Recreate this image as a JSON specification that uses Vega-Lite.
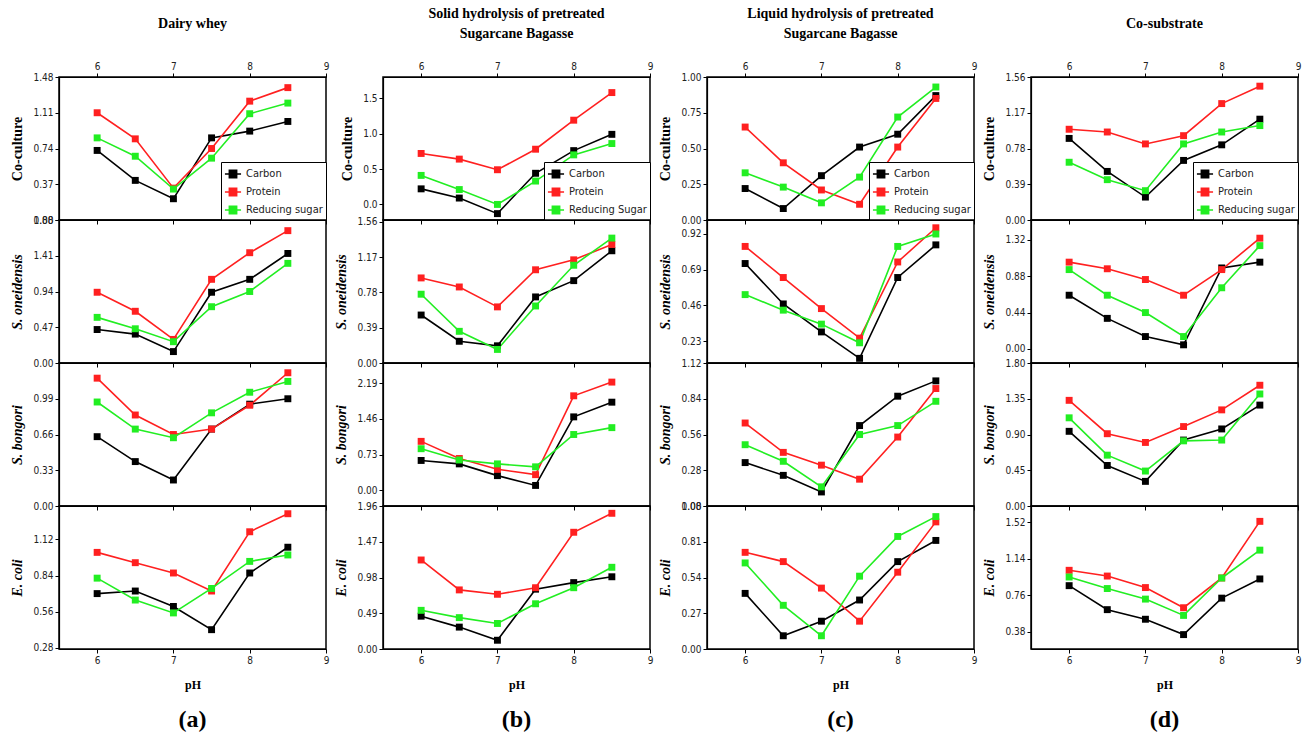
{
"$schema": "https://vega.github.io/schema/vega-lite/v6.json",
"background": "white",
"padding": {"left": 10, "top": 6, "right": 3, "bottom": 4},
"config": {
 "view": {"stroke": "black", "strokeWidth": 1.5},
 "axis": {"labelFont": "'Liberation Sans Narrow', 'DejaVu Sans Condensed', 'Liberation Sans', sans-serif", "labelFontSize": 10, "labelColor": "#222", "domainColor": "black", "domainWidth": 1.2, "tickColor": "black", "tickSize": 4, "grid": false, "titleFont": "Liberation Serif", "titleFontWeight": "bold", "titleFontSize": 14, "titleColor": "black", "labelOverlap": false, "labelFlush": false, "labelBound": false, "titlePadding": 8},
 "title": {"font": "Liberation Serif", "fontWeight": "bold", "fontSize": 14, "color": "black", "lineHeight": 20},
 "legend": {"orient": "bottom-right", "offset": 0, "strokeColor": "black", "fillColor": "white", "padding": 3, "rowPadding": 2, "labelFont": "'Liberation Sans Narrow', 'DejaVu Sans Condensed', 'Liberation Sans', sans-serif", "labelFontSize": 11, "labelColor": "#222", "symbolType": "M-1,0H1M-0.45,-0.45H0.45V0.45H-0.45Z", "symbolSize": 260, "symbolStrokeWidth": 1.6, "title": null}
},
"data": {"values": [
{"col":"a","row":1,"series":"Carbon","pH":6,"value":0.72},{"col":"a","row":1,"series":"Carbon","pH":6.5,"value":0.41},{"col":"a","row":1,"series":"Carbon","pH":7,"value":0.22},{"col":"a","row":1,"series":"Carbon","pH":7.5,"value":0.85},{"col":"a","row":1,"series":"Carbon","pH":8,"value":0.92},{"col":"a","row":1,"series":"Carbon","pH":8.5,"value":1.02},
{"col":"a","row":1,"series":"Protein","pH":6,"value":1.11},{"col":"a","row":1,"series":"Protein","pH":6.5,"value":0.84},{"col":"a","row":1,"series":"Protein","pH":7,"value":0.33},{"col":"a","row":1,"series":"Protein","pH":7.5,"value":0.74},{"col":"a","row":1,"series":"Protein","pH":8,"value":1.23},{"col":"a","row":1,"series":"Protein","pH":8.5,"value":1.37},
{"col":"a","row":1,"series":"Reducing sugar","pH":6,"value":0.85},{"col":"a","row":1,"series":"Reducing sugar","pH":6.5,"value":0.66},{"col":"a","row":1,"series":"Reducing sugar","pH":7,"value":0.32},{"col":"a","row":1,"series":"Reducing sugar","pH":7.5,"value":0.64},{"col":"a","row":1,"series":"Reducing sugar","pH":8,"value":1.10},{"col":"a","row":1,"series":"Reducing sugar","pH":8.5,"value":1.21},
{"col":"a","row":2,"series":"Carbon","pH":6,"value":0.44},{"col":"a","row":2,"series":"Carbon","pH":6.5,"value":0.38},{"col":"a","row":2,"series":"Carbon","pH":7,"value":0.15},{"col":"a","row":2,"series":"Carbon","pH":7.5,"value":0.93},{"col":"a","row":2,"series":"Carbon","pH":8,"value":1.10},{"col":"a","row":2,"series":"Carbon","pH":8.5,"value":1.44},
{"col":"a","row":2,"series":"Protein","pH":6,"value":0.93},{"col":"a","row":2,"series":"Protein","pH":6.5,"value":0.68},{"col":"a","row":2,"series":"Protein","pH":7,"value":0.31},{"col":"a","row":2,"series":"Protein","pH":7.5,"value":1.10},{"col":"a","row":2,"series":"Protein","pH":8,"value":1.45},{"col":"a","row":2,"series":"Protein","pH":8.5,"value":1.74},
{"col":"a","row":2,"series":"Reducing sugar","pH":6,"value":0.60},{"col":"a","row":2,"series":"Reducing sugar","pH":6.5,"value":0.45},{"col":"a","row":2,"series":"Reducing sugar","pH":7,"value":0.28},{"col":"a","row":2,"series":"Reducing sugar","pH":7.5,"value":0.74},{"col":"a","row":2,"series":"Reducing sugar","pH":8,"value":0.94},{"col":"a","row":2,"series":"Reducing sugar","pH":8.5,"value":1.31},
{"col":"a","row":3,"series":"Carbon","pH":6,"value":0.64},{"col":"a","row":3,"series":"Carbon","pH":6.5,"value":0.41},{"col":"a","row":3,"series":"Carbon","pH":7,"value":0.24},{"col":"a","row":3,"series":"Carbon","pH":7.5,"value":0.71},{"col":"a","row":3,"series":"Carbon","pH":8,"value":0.94},{"col":"a","row":3,"series":"Carbon","pH":8.5,"value":0.99},
{"col":"a","row":3,"series":"Protein","pH":6,"value":1.18},{"col":"a","row":3,"series":"Protein","pH":6.5,"value":0.84},{"col":"a","row":3,"series":"Protein","pH":7,"value":0.66},{"col":"a","row":3,"series":"Protein","pH":7.5,"value":0.71},{"col":"a","row":3,"series":"Protein","pH":8,"value":0.93},{"col":"a","row":3,"series":"Protein","pH":8.5,"value":1.23},
{"col":"a","row":3,"series":"Reducing sugar","pH":6,"value":0.96},{"col":"a","row":3,"series":"Reducing sugar","pH":6.5,"value":0.71},{"col":"a","row":3,"series":"Reducing sugar","pH":7,"value":0.63},{"col":"a","row":3,"series":"Reducing sugar","pH":7.5,"value":0.86},{"col":"a","row":3,"series":"Reducing sugar","pH":8,"value":1.05},{"col":"a","row":3,"series":"Reducing sugar","pH":8.5,"value":1.15},
{"col":"a","row":4,"series":"Carbon","pH":6,"value":0.70},{"col":"a","row":4,"series":"Carbon","pH":6.5,"value":0.72},{"col":"a","row":4,"series":"Carbon","pH":7,"value":0.60},{"col":"a","row":4,"series":"Carbon","pH":7.5,"value":0.42},{"col":"a","row":4,"series":"Carbon","pH":8,"value":0.86},{"col":"a","row":4,"series":"Carbon","pH":8.5,"value":1.06},
{"col":"a","row":4,"series":"Protein","pH":6,"value":1.02},{"col":"a","row":4,"series":"Protein","pH":6.5,"value":0.94},{"col":"a","row":4,"series":"Protein","pH":7,"value":0.86},{"col":"a","row":4,"series":"Protein","pH":7.5,"value":0.72},{"col":"a","row":4,"series":"Protein","pH":8,"value":1.18},{"col":"a","row":4,"series":"Protein","pH":8.5,"value":1.32},
{"col":"a","row":4,"series":"Reducing sugar","pH":6,"value":0.82},{"col":"a","row":4,"series":"Reducing sugar","pH":6.5,"value":0.65},{"col":"a","row":4,"series":"Reducing sugar","pH":7,"value":0.55},{"col":"a","row":4,"series":"Reducing sugar","pH":7.5,"value":0.74},{"col":"a","row":4,"series":"Reducing sugar","pH":8,"value":0.95},{"col":"a","row":4,"series":"Reducing sugar","pH":8.5,"value":1.00},
{"col":"b","row":1,"series":"Carbon","pH":6,"value":0.22},{"col":"b","row":1,"series":"Carbon","pH":6.5,"value":0.09},{"col":"b","row":1,"series":"Carbon","pH":7,"value":-0.13},{"col":"b","row":1,"series":"Carbon","pH":7.5,"value":0.44},{"col":"b","row":1,"series":"Carbon","pH":8,"value":0.76},{"col":"b","row":1,"series":"Carbon","pH":8.5,"value":0.99},
{"col":"b","row":1,"series":"Protein","pH":6,"value":0.72},{"col":"b","row":1,"series":"Protein","pH":6.5,"value":0.64},{"col":"b","row":1,"series":"Protein","pH":7,"value":0.49},{"col":"b","row":1,"series":"Protein","pH":7.5,"value":0.78},{"col":"b","row":1,"series":"Protein","pH":8,"value":1.19},{"col":"b","row":1,"series":"Protein","pH":8.5,"value":1.58},
{"col":"b","row":1,"series":"Reducing sugar","pH":6,"value":0.41},{"col":"b","row":1,"series":"Reducing sugar","pH":6.5,"value":0.21},{"col":"b","row":1,"series":"Reducing sugar","pH":7,"value":0.0},{"col":"b","row":1,"series":"Reducing sugar","pH":7.5,"value":0.33},{"col":"b","row":1,"series":"Reducing sugar","pH":8,"value":0.70},{"col":"b","row":1,"series":"Reducing sugar","pH":8.5,"value":0.86},
{"col":"b","row":2,"series":"Carbon","pH":6,"value":0.53},{"col":"b","row":2,"series":"Carbon","pH":6.5,"value":0.24},{"col":"b","row":2,"series":"Carbon","pH":7,"value":0.19},{"col":"b","row":2,"series":"Carbon","pH":7.5,"value":0.73},{"col":"b","row":2,"series":"Carbon","pH":8,"value":0.91},{"col":"b","row":2,"series":"Carbon","pH":8.5,"value":1.24},
{"col":"b","row":2,"series":"Protein","pH":6,"value":0.94},{"col":"b","row":2,"series":"Protein","pH":6.5,"value":0.84},{"col":"b","row":2,"series":"Protein","pH":7,"value":0.62},{"col":"b","row":2,"series":"Protein","pH":7.5,"value":1.03},{"col":"b","row":2,"series":"Protein","pH":8,"value":1.14},{"col":"b","row":2,"series":"Protein","pH":8.5,"value":1.31},
{"col":"b","row":2,"series":"Reducing sugar","pH":6,"value":0.76},{"col":"b","row":2,"series":"Reducing sugar","pH":6.5,"value":0.35},{"col":"b","row":2,"series":"Reducing sugar","pH":7,"value":0.15},{"col":"b","row":2,"series":"Reducing sugar","pH":7.5,"value":0.63},{"col":"b","row":2,"series":"Reducing sugar","pH":8,"value":1.08},{"col":"b","row":2,"series":"Reducing sugar","pH":8.5,"value":1.38},
{"col":"b","row":3,"series":"Carbon","pH":6,"value":0.61},{"col":"b","row":3,"series":"Carbon","pH":6.5,"value":0.54},{"col":"b","row":3,"series":"Carbon","pH":7,"value":0.30},{"col":"b","row":3,"series":"Carbon","pH":7.5,"value":0.10},{"col":"b","row":3,"series":"Carbon","pH":8,"value":1.50},{"col":"b","row":3,"series":"Carbon","pH":8.5,"value":1.80},
{"col":"b","row":3,"series":"Protein","pH":6,"value":1.00},{"col":"b","row":3,"series":"Protein","pH":6.5,"value":0.65},{"col":"b","row":3,"series":"Protein","pH":7,"value":0.43},{"col":"b","row":3,"series":"Protein","pH":7.5,"value":0.32},{"col":"b","row":3,"series":"Protein","pH":8,"value":1.93},{"col":"b","row":3,"series":"Protein","pH":8.5,"value":2.21},
{"col":"b","row":3,"series":"Reducing sugar","pH":6,"value":0.85},{"col":"b","row":3,"series":"Reducing sugar","pH":6.5,"value":0.62},{"col":"b","row":3,"series":"Reducing sugar","pH":7,"value":0.54},{"col":"b","row":3,"series":"Reducing sugar","pH":7.5,"value":0.48},{"col":"b","row":3,"series":"Reducing sugar","pH":8,"value":1.14},{"col":"b","row":3,"series":"Reducing sugar","pH":8.5,"value":1.28},
{"col":"b","row":4,"series":"Carbon","pH":6,"value":0.45},{"col":"b","row":4,"series":"Carbon","pH":6.5,"value":0.30},{"col":"b","row":4,"series":"Carbon","pH":7,"value":0.12},{"col":"b","row":4,"series":"Carbon","pH":7.5,"value":0.82},{"col":"b","row":4,"series":"Carbon","pH":8,"value":0.91},{"col":"b","row":4,"series":"Carbon","pH":8.5,"value":0.99},
{"col":"b","row":4,"series":"Protein","pH":6,"value":1.22},{"col":"b","row":4,"series":"Protein","pH":6.5,"value":0.81},{"col":"b","row":4,"series":"Protein","pH":7,"value":0.75},{"col":"b","row":4,"series":"Protein","pH":7.5,"value":0.84},{"col":"b","row":4,"series":"Protein","pH":8,"value":1.60},{"col":"b","row":4,"series":"Protein","pH":8.5,"value":1.86},
{"col":"b","row":4,"series":"Reducing sugar","pH":6,"value":0.53},{"col":"b","row":4,"series":"Reducing sugar","pH":6.5,"value":0.43},{"col":"b","row":4,"series":"Reducing sugar","pH":7,"value":0.35},{"col":"b","row":4,"series":"Reducing sugar","pH":7.5,"value":0.62},{"col":"b","row":4,"series":"Reducing sugar","pH":8,"value":0.84},{"col":"b","row":4,"series":"Reducing sugar","pH":8.5,"value":1.12},
{"col":"c","row":1,"series":"Carbon","pH":6,"value":0.22},{"col":"c","row":1,"series":"Carbon","pH":6.5,"value":0.08},{"col":"c","row":1,"series":"Carbon","pH":7,"value":0.31},{"col":"c","row":1,"series":"Carbon","pH":7.5,"value":0.51},{"col":"c","row":1,"series":"Carbon","pH":8,"value":0.60},{"col":"c","row":1,"series":"Carbon","pH":8.5,"value":0.87},
{"col":"c","row":1,"series":"Protein","pH":6,"value":0.65},{"col":"c","row":1,"series":"Protein","pH":6.5,"value":0.40},{"col":"c","row":1,"series":"Protein","pH":7,"value":0.21},{"col":"c","row":1,"series":"Protein","pH":7.5,"value":0.11},{"col":"c","row":1,"series":"Protein","pH":8,"value":0.51},{"col":"c","row":1,"series":"Protein","pH":8.5,"value":0.85},
{"col":"c","row":1,"series":"Reducing sugar","pH":6,"value":0.33},{"col":"c","row":1,"series":"Reducing sugar","pH":6.5,"value":0.23},{"col":"c","row":1,"series":"Reducing sugar","pH":7,"value":0.12},{"col":"c","row":1,"series":"Reducing sugar","pH":7.5,"value":0.30},{"col":"c","row":1,"series":"Reducing sugar","pH":8,"value":0.72},{"col":"c","row":1,"series":"Reducing sugar","pH":8.5,"value":0.93},
{"col":"c","row":2,"series":"Carbon","pH":6,"value":0.73},{"col":"c","row":2,"series":"Carbon","pH":6.5,"value":0.47},{"col":"c","row":2,"series":"Carbon","pH":7,"value":0.29},{"col":"c","row":2,"series":"Carbon","pH":7.5,"value":0.12},{"col":"c","row":2,"series":"Carbon","pH":8,"value":0.64},{"col":"c","row":2,"series":"Carbon","pH":8.5,"value":0.85},
{"col":"c","row":2,"series":"Protein","pH":6,"value":0.84},{"col":"c","row":2,"series":"Protein","pH":6.5,"value":0.64},{"col":"c","row":2,"series":"Protein","pH":7,"value":0.44},{"col":"c","row":2,"series":"Protein","pH":7.5,"value":0.25},{"col":"c","row":2,"series":"Protein","pH":8,"value":0.74},{"col":"c","row":2,"series":"Protein","pH":8.5,"value":0.96},
{"col":"c","row":2,"series":"Reducing sugar","pH":6,"value":0.53},{"col":"c","row":2,"series":"Reducing sugar","pH":6.5,"value":0.43},{"col":"c","row":2,"series":"Reducing sugar","pH":7,"value":0.34},{"col":"c","row":2,"series":"Reducing sugar","pH":7.5,"value":0.22},{"col":"c","row":2,"series":"Reducing sugar","pH":8,"value":0.84},{"col":"c","row":2,"series":"Reducing sugar","pH":8.5,"value":0.92},
{"col":"c","row":3,"series":"Carbon","pH":6,"value":0.34},{"col":"c","row":3,"series":"Carbon","pH":6.5,"value":0.24},{"col":"c","row":3,"series":"Carbon","pH":7,"value":0.11},{"col":"c","row":3,"series":"Carbon","pH":7.5,"value":0.63},{"col":"c","row":3,"series":"Carbon","pH":8,"value":0.86},{"col":"c","row":3,"series":"Carbon","pH":8.5,"value":0.98},
{"col":"c","row":3,"series":"Protein","pH":6,"value":0.65},{"col":"c","row":3,"series":"Protein","pH":6.5,"value":0.42},{"col":"c","row":3,"series":"Protein","pH":7,"value":0.32},{"col":"c","row":3,"series":"Protein","pH":7.5,"value":0.21},{"col":"c","row":3,"series":"Protein","pH":8,"value":0.54},{"col":"c","row":3,"series":"Protein","pH":8.5,"value":0.92},
{"col":"c","row":3,"series":"Reducing sugar","pH":6,"value":0.48},{"col":"c","row":3,"series":"Reducing sugar","pH":6.5,"value":0.35},{"col":"c","row":3,"series":"Reducing sugar","pH":7,"value":0.15},{"col":"c","row":3,"series":"Reducing sugar","pH":7.5,"value":0.56},{"col":"c","row":3,"series":"Reducing sugar","pH":8,"value":0.63},{"col":"c","row":3,"series":"Reducing sugar","pH":8.5,"value":0.82},
{"col":"c","row":4,"series":"Carbon","pH":6,"value":0.42},{"col":"c","row":4,"series":"Carbon","pH":6.5,"value":0.10},{"col":"c","row":4,"series":"Carbon","pH":7,"value":0.21},{"col":"c","row":4,"series":"Carbon","pH":7.5,"value":0.37},{"col":"c","row":4,"series":"Carbon","pH":8,"value":0.66},{"col":"c","row":4,"series":"Carbon","pH":8.5,"value":0.82},
{"col":"c","row":4,"series":"Protein","pH":6,"value":0.73},{"col":"c","row":4,"series":"Protein","pH":6.5,"value":0.66},{"col":"c","row":4,"series":"Protein","pH":7,"value":0.46},{"col":"c","row":4,"series":"Protein","pH":7.5,"value":0.21},{"col":"c","row":4,"series":"Protein","pH":8,"value":0.58},{"col":"c","row":4,"series":"Protein","pH":8.5,"value":0.96},
{"col":"c","row":4,"series":"Reducing sugar","pH":6,"value":0.65},{"col":"c","row":4,"series":"Reducing sugar","pH":6.5,"value":0.33},{"col":"c","row":4,"series":"Reducing sugar","pH":7,"value":0.10},{"col":"c","row":4,"series":"Reducing sugar","pH":7.5,"value":0.55},{"col":"c","row":4,"series":"Reducing sugar","pH":8,"value":0.85},{"col":"c","row":4,"series":"Reducing sugar","pH":8.5,"value":1.00},
{"col":"d","row":1,"series":"Carbon","pH":6,"value":0.89},{"col":"d","row":1,"series":"Carbon","pH":6.5,"value":0.53},{"col":"d","row":1,"series":"Carbon","pH":7,"value":0.25},{"col":"d","row":1,"series":"Carbon","pH":7.5,"value":0.65},{"col":"d","row":1,"series":"Carbon","pH":8,"value":0.82},{"col":"d","row":1,"series":"Carbon","pH":8.5,"value":1.10},
{"col":"d","row":1,"series":"Protein","pH":6,"value":0.99},{"col":"d","row":1,"series":"Protein","pH":6.5,"value":0.96},{"col":"d","row":1,"series":"Protein","pH":7,"value":0.83},{"col":"d","row":1,"series":"Protein","pH":7.5,"value":0.92},{"col":"d","row":1,"series":"Protein","pH":8,"value":1.27},{"col":"d","row":1,"series":"Protein","pH":8.5,"value":1.46},
{"col":"d","row":1,"series":"Reducing sugar","pH":6,"value":0.63},{"col":"d","row":1,"series":"Reducing sugar","pH":6.5,"value":0.44},{"col":"d","row":1,"series":"Reducing sugar","pH":7,"value":0.32},{"col":"d","row":1,"series":"Reducing sugar","pH":7.5,"value":0.83},{"col":"d","row":1,"series":"Reducing sugar","pH":8,"value":0.96},{"col":"d","row":1,"series":"Reducing sugar","pH":8.5,"value":1.03},
{"col":"d","row":2,"series":"Carbon","pH":6,"value":0.65},{"col":"d","row":2,"series":"Carbon","pH":6.5,"value":0.37},{"col":"d","row":2,"series":"Carbon","pH":7,"value":0.15},{"col":"d","row":2,"series":"Carbon","pH":7.5,"value":0.05},{"col":"d","row":2,"series":"Carbon","pH":8,"value":0.98},{"col":"d","row":2,"series":"Carbon","pH":8.5,"value":1.05},
{"col":"d","row":2,"series":"Protein","pH":6,"value":1.05},{"col":"d","row":2,"series":"Protein","pH":6.5,"value":0.97},{"col":"d","row":2,"series":"Protein","pH":7,"value":0.84},{"col":"d","row":2,"series":"Protein","pH":7.5,"value":0.65},{"col":"d","row":2,"series":"Protein","pH":8,"value":0.96},{"col":"d","row":2,"series":"Protein","pH":8.5,"value":1.34},
{"col":"d","row":2,"series":"Reducing sugar","pH":6,"value":0.96},{"col":"d","row":2,"series":"Reducing sugar","pH":6.5,"value":0.65},{"col":"d","row":2,"series":"Reducing sugar","pH":7,"value":0.44},{"col":"d","row":2,"series":"Reducing sugar","pH":7.5,"value":0.15},{"col":"d","row":2,"series":"Reducing sugar","pH":8,"value":0.74},{"col":"d","row":2,"series":"Reducing sugar","pH":8.5,"value":1.25},
{"col":"d","row":3,"series":"Carbon","pH":6,"value":0.94},{"col":"d","row":3,"series":"Carbon","pH":6.5,"value":0.51},{"col":"d","row":3,"series":"Carbon","pH":7,"value":0.31},{"col":"d","row":3,"series":"Carbon","pH":7.5,"value":0.83},{"col":"d","row":3,"series":"Carbon","pH":8,"value":0.97},{"col":"d","row":3,"series":"Carbon","pH":8.5,"value":1.27},
{"col":"d","row":3,"series":"Protein","pH":6,"value":1.33},{"col":"d","row":3,"series":"Protein","pH":6.5,"value":0.91},{"col":"d","row":3,"series":"Protein","pH":7,"value":0.80},{"col":"d","row":3,"series":"Protein","pH":7.5,"value":1.00},{"col":"d","row":3,"series":"Protein","pH":8,"value":1.21},{"col":"d","row":3,"series":"Protein","pH":8.5,"value":1.52},
{"col":"d","row":3,"series":"Reducing sugar","pH":6,"value":1.11},{"col":"d","row":3,"series":"Reducing sugar","pH":6.5,"value":0.64},{"col":"d","row":3,"series":"Reducing sugar","pH":7,"value":0.44},{"col":"d","row":3,"series":"Reducing sugar","pH":7.5,"value":0.82},{"col":"d","row":3,"series":"Reducing sugar","pH":8,"value":0.83},{"col":"d","row":3,"series":"Reducing sugar","pH":8.5,"value":1.41},
{"col":"d","row":4,"series":"Carbon","pH":6,"value":0.86},{"col":"d","row":4,"series":"Carbon","pH":6.5,"value":0.61},{"col":"d","row":4,"series":"Carbon","pH":7,"value":0.51},{"col":"d","row":4,"series":"Carbon","pH":7.5,"value":0.35},{"col":"d","row":4,"series":"Carbon","pH":8,"value":0.73},{"col":"d","row":4,"series":"Carbon","pH":8.5,"value":0.93},
{"col":"d","row":4,"series":"Protein","pH":6,"value":1.02},{"col":"d","row":4,"series":"Protein","pH":6.5,"value":0.96},{"col":"d","row":4,"series":"Protein","pH":7,"value":0.84},{"col":"d","row":4,"series":"Protein","pH":7.5,"value":0.63},{"col":"d","row":4,"series":"Protein","pH":8,"value":0.94},{"col":"d","row":4,"series":"Protein","pH":8.5,"value":1.53},
{"col":"d","row":4,"series":"Reducing sugar","pH":6,"value":0.95},{"col":"d","row":4,"series":"Reducing sugar","pH":6.5,"value":0.83},{"col":"d","row":4,"series":"Reducing sugar","pH":7,"value":0.72},{"col":"d","row":4,"series":"Reducing sugar","pH":7.5,"value":0.55},{"col":"d","row":4,"series":"Reducing sugar","pH":8,"value":0.94},{"col":"d","row":4,"series":"Reducing sugar","pH":8.5,"value":1.23}
]},
"spacing": 4,
"resolve": {"scale": {"color": "independent"}, "legend": {"color": "independent"}},
"hconcat": [
 {"spacing": 0, "bounds": "flush", "resolve": {"scale": {"color": "independent"}, "legend": {"color": "independent"}},
  "vconcat": [
   {"width": 267, "height": 143, "title": {"text": "Dairy whey", "offset": 30},
    "transform": [{"filter": "datum.col=='a' && datum.row==1"}],
    "encoding": {
     "x": {"field": "pH", "type": "quantitative", "scale": {"domain": [5.5, 9], "nice": false, "zero": false}, "axis": {"values": [6, 7, 8, 9], "labels": false, "title": null}},
     "y": {"field": "value", "type": "quantitative", "scale": {"domain": [0, 1.48], "nice": false, "zero": false}, "axis": {"values": [0, 0.37, 0.74, 1.11, 1.48], "format": ".2f", "title": "Co-culture"}},
     "color": {"field": "series", "type": "nominal", "scale": {"domain": ["Carbon", "Protein", "Reducing sugar"], "range": ["#000000", "#ff2020", "#22ee22"]}, "legend": {}}},
    "layer": [
     {"mark": {"type": "line", "strokeWidth": 1.6}},
     {"mark": {"type": "point", "shape": "square", "filled": true, "size": 48, "opacity": 1},
      "encoding": {"x": {"field": "pH", "type": "quantitative", "scale": {"domain": [5.5, 9], "nice": false, "zero": false}, "axis": {"orient": "top", "values": [6, 7, 8, 9], "title": null}}}}
    ],
    "resolve": {"axis": {"x": "independent"}}},
   {"width": 267, "height": 143,
    "transform": [{"filter": "datum.col=='a' && datum.row==2"}],
    "encoding": {
     "x": {"field": "pH", "type": "quantitative", "scale": {"domain": [5.5, 9], "nice": false, "zero": false}, "axis": {"values": [6, 7, 8, 9], "labels": false, "title": null}},
     "y": {"field": "value", "type": "quantitative", "scale": {"domain": [0, 1.88], "nice": false, "zero": false}, "axis": {"values": [0, 0.47, 0.94, 1.41, 1.88], "format": ".2f", "title": "S. oneidensis", "titleFontStyle": "italic"}},
     "color": {"field": "series", "type": "nominal", "scale": {"domain": ["Carbon", "Protein", "Reducing sugar"], "range": ["#000000", "#ff2020", "#22ee22"]}, "legend": null}},
    "layer": [
     {"mark": {"type": "line", "strokeWidth": 1.6}},
     {"mark": {"type": "point", "shape": "square", "filled": true, "size": 48, "opacity": 1}}
    ]},
   {"width": 267, "height": 143,
    "transform": [{"filter": "datum.col=='a' && datum.row==3"}],
    "encoding": {
     "x": {"field": "pH", "type": "quantitative", "scale": {"domain": [5.5, 9], "nice": false, "zero": false}, "axis": {"values": [6, 7, 8, 9], "labels": false, "title": null}},
     "y": {"field": "value", "type": "quantitative", "scale": {"domain": [0, 1.32], "nice": false, "zero": false}, "axis": {"values": [0, 0.33, 0.66, 0.99], "format": ".2f", "title": "S. bongori", "titleFontStyle": "italic"}},
     "color": {"field": "series", "type": "nominal", "scale": {"domain": ["Carbon", "Protein", "Reducing sugar"], "range": ["#000000", "#ff2020", "#22ee22"]}, "legend": null}},
    "layer": [
     {"mark": {"type": "line", "strokeWidth": 1.6}},
     {"mark": {"type": "point", "shape": "square", "filled": true, "size": 48, "opacity": 1}}
    ]},
   {"width": 267, "height": 143, "title": {"text": "(a)", "orient": "bottom", "fontSize": 24, "offset": 18},
    "transform": [{"filter": "datum.col=='a' && datum.row==4"}],
    "encoding": {
     "x": {"field": "pH", "type": "quantitative", "scale": {"domain": [5.5, 9], "nice": false, "zero": false}, "axis": {"values": [6, 7, 8, 9], "title": "pH", "titleFontSize": 12, "titlePadding": 14}},
     "y": {"field": "value", "type": "quantitative", "scale": {"domain": [0.27, 1.38], "nice": false, "zero": false}, "axis": {"values": [0.28, 0.56, 0.84, 1.12], "format": ".2f", "title": "E. coli", "titleFontStyle": "italic"}},
     "color": {"field": "series", "type": "nominal", "scale": {"domain": ["Carbon", "Protein", "Reducing sugar"], "range": ["#000000", "#ff2020", "#22ee22"]}, "legend": null}},
    "layer": [
     {"mark": {"type": "line", "strokeWidth": 1.6}},
     {"mark": {"type": "point", "shape": "square", "filled": true, "size": 48, "opacity": 1}}
    ]}
  ]},
 {"spacing": 0, "bounds": "flush", "resolve": {"scale": {"color": "independent"}, "legend": {"color": "independent"}},
  "vconcat": [
   {"width": 267, "height": 143, "title": {"text": ["Solid hydrolysis of pretreated", "Sugarcane Bagasse"], "offset": 20},
    "transform": [{"filter": "datum.col=='b' && datum.row==1"}],
    "encoding": {
     "x": {"field": "pH", "type": "quantitative", "scale": {"domain": [5.5, 9], "nice": false, "zero": false}, "axis": {"values": [6, 7, 8, 9], "labels": false, "title": null}},
     "y": {"field": "value", "type": "quantitative", "scale": {"domain": [-0.22, 1.8], "nice": false, "zero": false}, "axis": {"values": [0, 0.5, 1, 1.5], "format": ".1f", "title": "Co-culture"}},
     "color": {"field": "series", "type": "nominal", "scale": {"domain": ["Carbon", "Protein", "Reducing sugar"], "range": ["#000000", "#ff2020", "#22ee22"]}, "legend": {"labelExpr": "datum.label == 'Reducing sugar' ? 'Reducing Sugar' : datum.label"}}},
    "layer": [
     {"mark": {"type": "line", "strokeWidth": 1.6}},
     {"mark": {"type": "point", "shape": "square", "filled": true, "size": 48, "opacity": 1},
      "encoding": {"x": {"field": "pH", "type": "quantitative", "scale": {"domain": [5.5, 9], "nice": false, "zero": false}, "axis": {"orient": "top", "values": [6, 7, 8, 9], "title": null}}}}
    ],
    "resolve": {"axis": {"x": "independent"}}},
   {"width": 267, "height": 143,
    "transform": [{"filter": "datum.col=='b' && datum.row==2"}],
    "encoding": {
     "x": {"field": "pH", "type": "quantitative", "scale": {"domain": [5.5, 9], "nice": false, "zero": false}, "axis": {"values": [6, 7, 8, 9], "labels": false, "title": null}},
     "y": {"field": "value", "type": "quantitative", "scale": {"domain": [0, 1.58], "nice": false, "zero": false}, "axis": {"values": [0, 0.39, 0.78, 1.17, 1.56], "format": ".2f", "title": "S. oneidensis", "titleFontStyle": "italic"}},
     "color": {"field": "series", "type": "nominal", "scale": {"domain": ["Carbon", "Protein", "Reducing sugar"], "range": ["#000000", "#ff2020", "#22ee22"]}, "legend": null}},
    "layer": [
     {"mark": {"type": "line", "strokeWidth": 1.6}},
     {"mark": {"type": "point", "shape": "square", "filled": true, "size": 48, "opacity": 1}}
    ]},
   {"width": 267, "height": 143,
    "transform": [{"filter": "datum.col=='b' && datum.row==3"}],
    "encoding": {
     "x": {"field": "pH", "type": "quantitative", "scale": {"domain": [5.5, 9], "nice": false, "zero": false}, "axis": {"values": [6, 7, 8, 9], "labels": false, "title": null}},
     "y": {"field": "value", "type": "quantitative", "scale": {"domain": [-0.32, 2.6], "nice": false, "zero": false}, "axis": {"values": [0, 0.73, 1.46, 2.19], "format": ".2f", "title": "S. bongori", "titleFontStyle": "italic"}},
     "color": {"field": "series", "type": "nominal", "scale": {"domain": ["Carbon", "Protein", "Reducing sugar"], "range": ["#000000", "#ff2020", "#22ee22"]}, "legend": null}},
    "layer": [
     {"mark": {"type": "line", "strokeWidth": 1.6}},
     {"mark": {"type": "point", "shape": "square", "filled": true, "size": 48, "opacity": 1}}
    ]},
   {"width": 267, "height": 143, "title": {"text": "(b)", "orient": "bottom", "fontSize": 24, "offset": 18},
    "transform": [{"filter": "datum.col=='b' && datum.row==4"}],
    "encoding": {
     "x": {"field": "pH", "type": "quantitative", "scale": {"domain": [5.5, 9], "nice": false, "zero": false}, "axis": {"values": [6, 7, 8, 9], "title": "pH", "titleFontSize": 12, "titlePadding": 14}},
     "y": {"field": "value", "type": "quantitative", "scale": {"domain": [0, 1.96], "nice": false, "zero": false}, "axis": {"values": [0, 0.49, 0.98, 1.47, 1.96], "format": ".2f", "title": "E. coli", "titleFontStyle": "italic"}},
     "color": {"field": "series", "type": "nominal", "scale": {"domain": ["Carbon", "Protein", "Reducing sugar"], "range": ["#000000", "#ff2020", "#22ee22"]}, "legend": null}},
    "layer": [
     {"mark": {"type": "line", "strokeWidth": 1.6}},
     {"mark": {"type": "point", "shape": "square", "filled": true, "size": 48, "opacity": 1}}
    ]}
  ]},
 {"spacing": 0, "bounds": "flush", "resolve": {"scale": {"color": "independent"}, "legend": {"color": "independent"}},
  "vconcat": [
   {"width": 267, "height": 143, "title": {"text": ["Liquid hydrolysis of pretreated", "Sugarcane Bagasse"], "offset": 20},
    "transform": [{"filter": "datum.col=='c' && datum.row==1"}],
    "encoding": {
     "x": {"field": "pH", "type": "quantitative", "scale": {"domain": [5.5, 9], "nice": false, "zero": false}, "axis": {"values": [6, 7, 8, 9], "labels": false, "title": null}},
     "y": {"field": "value", "type": "quantitative", "scale": {"domain": [0, 1.0], "nice": false, "zero": false}, "axis": {"values": [0, 0.25, 0.5, 0.75, 1.0], "format": ".2f", "title": "Co-culture"}},
     "color": {"field": "series", "type": "nominal", "scale": {"domain": ["Carbon", "Protein", "Reducing sugar"], "range": ["#000000", "#ff2020", "#22ee22"]}, "legend": {}}},
    "layer": [
     {"mark": {"type": "line", "strokeWidth": 1.6}},
     {"mark": {"type": "point", "shape": "square", "filled": true, "size": 48, "opacity": 1},
      "encoding": {"x": {"field": "pH", "type": "quantitative", "scale": {"domain": [5.5, 9], "nice": false, "zero": false}, "axis": {"orient": "top", "values": [6, 7, 8, 9], "title": null}}}}
    ],
    "resolve": {"axis": {"x": "independent"}}},
   {"width": 267, "height": 143,
    "transform": [{"filter": "datum.col=='c' && datum.row==2"}],
    "encoding": {
     "x": {"field": "pH", "type": "quantitative", "scale": {"domain": [5.5, 9], "nice": false, "zero": false}, "axis": {"values": [6, 7, 8, 9], "labels": false, "title": null}},
     "y": {"field": "value", "type": "quantitative", "scale": {"domain": [0.09, 1.01], "nice": false, "zero": false}, "axis": {"values": [0.23, 0.46, 0.69, 0.92], "format": ".2f", "title": "S. oneidensis", "titleFontStyle": "italic"}},
     "color": {"field": "series", "type": "nominal", "scale": {"domain": ["Carbon", "Protein", "Reducing sugar"], "range": ["#000000", "#ff2020", "#22ee22"]}, "legend": null}},
    "layer": [
     {"mark": {"type": "line", "strokeWidth": 1.6}},
     {"mark": {"type": "point", "shape": "square", "filled": true, "size": 48, "opacity": 1}}
    ]},
   {"width": 267, "height": 143,
    "transform": [{"filter": "datum.col=='c' && datum.row==3"}],
    "encoding": {
     "x": {"field": "pH", "type": "quantitative", "scale": {"domain": [5.5, 9], "nice": false, "zero": false}, "axis": {"values": [6, 7, 8, 9], "labels": false, "title": null}},
     "y": {"field": "value", "type": "quantitative", "scale": {"domain": [0, 1.12], "nice": false, "zero": false}, "axis": {"values": [0, 0.28, 0.56, 0.84, 1.12], "format": ".2f", "title": "S. bongori", "titleFontStyle": "italic"}},
     "color": {"field": "series", "type": "nominal", "scale": {"domain": ["Carbon", "Protein", "Reducing sugar"], "range": ["#000000", "#ff2020", "#22ee22"]}, "legend": null}},
    "layer": [
     {"mark": {"type": "line", "strokeWidth": 1.6}},
     {"mark": {"type": "point", "shape": "square", "filled": true, "size": 48, "opacity": 1}}
    ]},
   {"width": 267, "height": 143, "title": {"text": "(c)", "orient": "bottom", "fontSize": 24, "offset": 18},
    "transform": [{"filter": "datum.col=='c' && datum.row==4"}],
    "encoding": {
     "x": {"field": "pH", "type": "quantitative", "scale": {"domain": [5.5, 9], "nice": false, "zero": false}, "axis": {"values": [6, 7, 8, 9], "title": "pH", "titleFontSize": 12, "titlePadding": 14}},
     "y": {"field": "value", "type": "quantitative", "scale": {"domain": [0, 1.08], "nice": false, "zero": false}, "axis": {"values": [0, 0.27, 0.54, 0.81, 1.08], "format": ".2f", "title": "E. coli", "titleFontStyle": "italic"}},
     "color": {"field": "series", "type": "nominal", "scale": {"domain": ["Carbon", "Protein", "Reducing sugar"], "range": ["#000000", "#ff2020", "#22ee22"]}, "legend": null}},
    "layer": [
     {"mark": {"type": "line", "strokeWidth": 1.6}},
     {"mark": {"type": "point", "shape": "square", "filled": true, "size": 48, "opacity": 1}}
    ]}
  ]},
 {"spacing": 0, "bounds": "flush", "resolve": {"scale": {"color": "independent"}, "legend": {"color": "independent"}},
  "vconcat": [
   {"width": 267, "height": 143, "title": {"text": "Co-substrate", "offset": 30},
    "transform": [{"filter": "datum.col=='d' && datum.row==1"}],
    "encoding": {
     "x": {"field": "pH", "type": "quantitative", "scale": {"domain": [5.5, 9], "nice": false, "zero": false}, "axis": {"values": [6, 7, 8, 9], "labels": false, "title": null}},
     "y": {"field": "value", "type": "quantitative", "scale": {"domain": [0, 1.56], "nice": false, "zero": false}, "axis": {"values": [0, 0.39, 0.78, 1.17, 1.56], "format": ".2f", "title": "Co-culture"}},
     "color": {"field": "series", "type": "nominal", "scale": {"domain": ["Carbon", "Protein", "Reducing sugar"], "range": ["#000000", "#ff2020", "#22ee22"]}, "legend": {}}},
    "layer": [
     {"mark": {"type": "line", "strokeWidth": 1.6}},
     {"mark": {"type": "point", "shape": "square", "filled": true, "size": 48, "opacity": 1},
      "encoding": {"x": {"field": "pH", "type": "quantitative", "scale": {"domain": [5.5, 9], "nice": false, "zero": false}, "axis": {"orient": "top", "values": [6, 7, 8, 9], "title": null}}}}
    ],
    "resolve": {"axis": {"x": "independent"}}},
   {"width": 267, "height": 143,
    "transform": [{"filter": "datum.col=='d' && datum.row==2"}],
    "encoding": {
     "x": {"field": "pH", "type": "quantitative", "scale": {"domain": [5.5, 9], "nice": false, "zero": false}, "axis": {"values": [6, 7, 8, 9], "labels": false, "title": null}},
     "y": {"field": "value", "type": "quantitative", "scale": {"domain": [-0.17, 1.56], "nice": false, "zero": false}, "axis": {"values": [0, 0.44, 0.88, 1.32], "format": ".2f", "title": "S. oneidensis", "titleFontStyle": "italic"}},
     "color": {"field": "series", "type": "nominal", "scale": {"domain": ["Carbon", "Protein", "Reducing sugar"], "range": ["#000000", "#ff2020", "#22ee22"]}, "legend": null}},
    "layer": [
     {"mark": {"type": "line", "strokeWidth": 1.6}},
     {"mark": {"type": "point", "shape": "square", "filled": true, "size": 48, "opacity": 1}}
    ]},
   {"width": 267, "height": 143,
    "transform": [{"filter": "datum.col=='d' && datum.row==3"}],
    "encoding": {
     "x": {"field": "pH", "type": "quantitative", "scale": {"domain": [5.5, 9], "nice": false, "zero": false}, "axis": {"values": [6, 7, 8, 9], "labels": false, "title": null}},
     "y": {"field": "value", "type": "quantitative", "scale": {"domain": [0, 1.8], "nice": false, "zero": false}, "axis": {"values": [0, 0.45, 0.9, 1.35, 1.8], "format": ".2f", "title": "S. bongori", "titleFontStyle": "italic"}},
     "color": {"field": "series", "type": "nominal", "scale": {"domain": ["Carbon", "Protein", "Reducing sugar"], "range": ["#000000", "#ff2020", "#22ee22"]}, "legend": null}},
    "layer": [
     {"mark": {"type": "line", "strokeWidth": 1.6}},
     {"mark": {"type": "point", "shape": "square", "filled": true, "size": 48, "opacity": 1}}
    ]},
   {"width": 267, "height": 143, "title": {"text": "(d)", "orient": "bottom", "fontSize": 24, "offset": 18},
    "transform": [{"filter": "datum.col=='d' && datum.row==4"}],
    "encoding": {
     "x": {"field": "pH", "type": "quantitative", "scale": {"domain": [5.5, 9], "nice": false, "zero": false}, "axis": {"values": [6, 7, 8, 9], "title": "pH", "titleFontSize": 12, "titlePadding": 14}},
     "y": {"field": "value", "type": "quantitative", "scale": {"domain": [0.2, 1.69], "nice": false, "zero": false}, "axis": {"values": [0.38, 0.76, 1.14, 1.52], "format": ".2f", "title": "E. coli", "titleFontStyle": "italic"}},
     "color": {"field": "series", "type": "nominal", "scale": {"domain": ["Carbon", "Protein", "Reducing sugar"], "range": ["#000000", "#ff2020", "#22ee22"]}, "legend": null}},
    "layer": [
     {"mark": {"type": "line", "strokeWidth": 1.6}},
     {"mark": {"type": "point", "shape": "square", "filled": true, "size": 48, "opacity": 1}}
    ]}
  ]}
]
}
